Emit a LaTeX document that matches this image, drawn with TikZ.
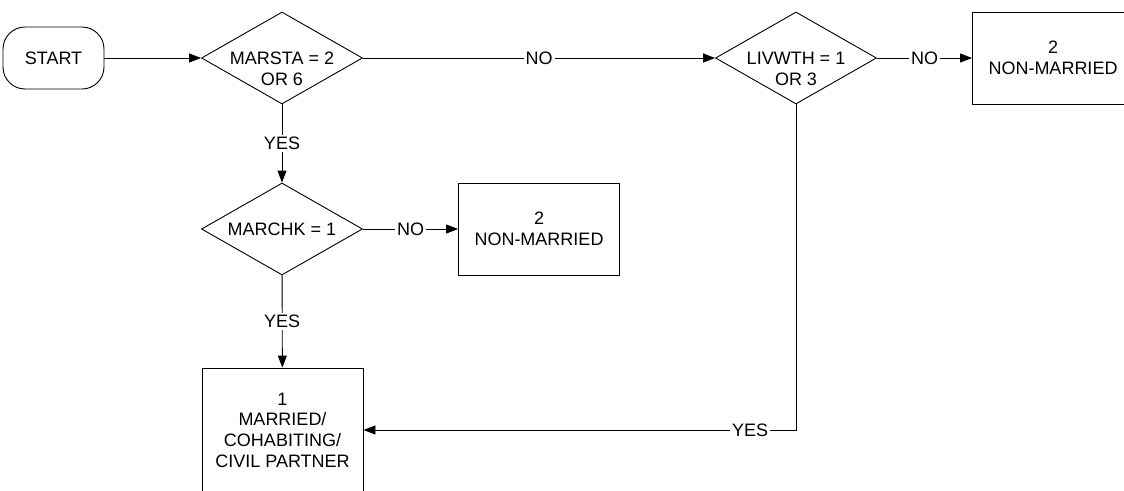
\documentclass[tikz,border=0pt]{standalone}
\usepackage{fontspec}
\setmainfont{Liberation Sans}
\usetikzlibrary{arrows.meta,positioning,shapes.geometric}

\begin{document}
\begin{tikzpicture}[x=1pt,y=-1pt,line width=0.9pt,
    font=\fontsize{18}{20.7}\selectfont,
    >={Triangle[length=12pt,width=9pt]},
    ask/.style={diamond,draw,minimum width=161pt,minimum height=92pt,inner sep=0pt},
    asktext/.style={align=center,inner sep=0pt},
    result/.style={rectangle,draw,minimum width=161pt,minimum height=92pt,align=center},
    lab/.style={fill=white,inner sep=2pt}]
  \useasboundingbox (0,0) rectangle (1124,490);
  \clip (0,0) rectangle (1124,490);
  % start and the three questions
  \node[draw,rounded corners=22pt,minimum width=101pt,minimum height=62pt] (start) at (53.5,58) {START};
  \node[ask] (marsta) at (282,58) {};
  \node[asktext] (marstatext) at (282,69) {MARSTA = 2\\OR 6};
  \node[ask] (marchk) at (282,229) {};
  \node[asktext] (marchktext) at (282,229) {MARCHK = 1};
  \node[ask] (livwth) at (796,58) {};
  \node[asktext] (livwthtext) at (796,69) {LIVWTH = 1\\OR 3};
  % outcomes
  \node[result] (nonmar) at (539,229) {2\\NON-MARRIED};
  \node[result] (nonmarb) at (1053,58) {2\\NON-MARRIED};
  \node[result,minimum height=124pt] (married) at (282.5,430) {1\\MARRIED/\\COHABITING/\\CIVIL PARTNER};
  % connectors
  \draw[->] (start) -- (marsta);
  \draw[->] (marsta) -- node[lab]{NO} (livwth);
  \draw[->] (marsta) -- node[lab]{YES} (marchk);
  \draw[->] (marchk) -- node[lab]{NO} (nonmar);
  \draw[->] (marchk) -- node[lab]{YES} (married);
  \draw[->] (livwth) -- node[lab]{NO} (nonmarb);
  \draw[->] (livwth.south) |- node[lab,pos=0.553]{YES} (married.east);
\end{tikzpicture}
\end{document}
